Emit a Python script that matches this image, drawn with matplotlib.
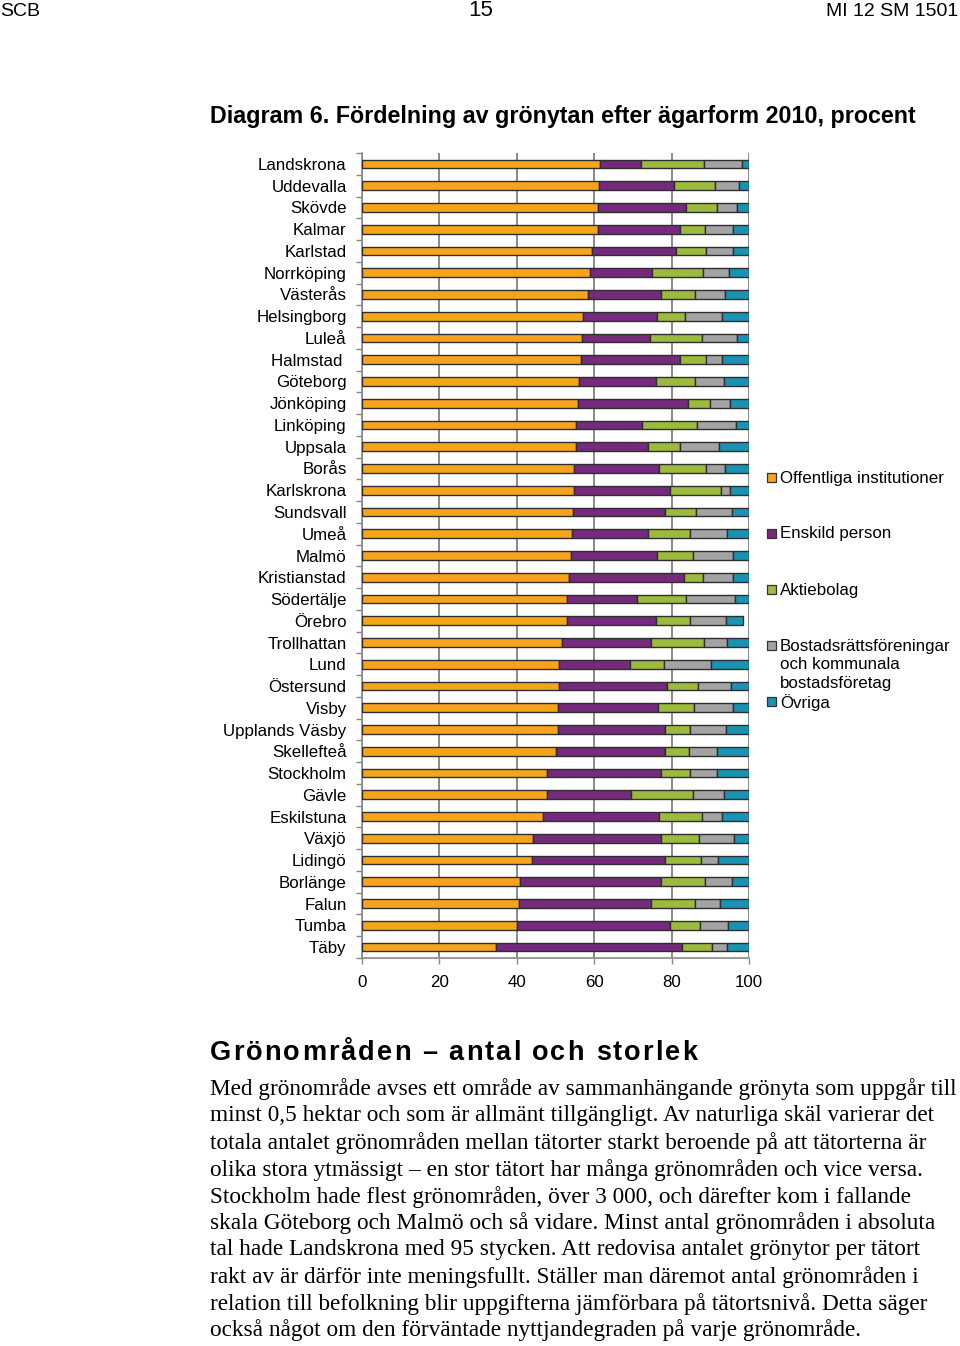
import matplotlib
matplotlib.use("Agg")
import matplotlib.pyplot as plt
from matplotlib.patches import Rectangle
import numpy as np

cities = ["Landskrona", "Uddevalla", "Skövde", "Kalmar", "Karlstad", "Norrköping",
          "Västerås", "Helsingborg", "Luleå", "Halmstad ", "Göteborg", "Jönköping",
          "Linköping", "Uppsala", "Borås", "Karlskrona", "Sundsvall", "Umeå", "Malmö",
          "Kristianstad", "Södertälje", "Örebro", "Trollhattan", "Lund", "Östersund",
          "Visby", "Upplands Väsby", "Skellefteå", "Stockholm", "Gävle", "Eskilstuna",
          "Växjö", "Lidingö", "Borlänge", "Falun", "Tumba", "Täby"]

offentliga = [61.6, 61.2, 60.9, 60.9, 59.5, 59.0, 58.4, 57.1, 56.9, 56.7, 56.2, 55.8,
              55.4, 55.4, 54.7, 54.7, 54.4, 54.2, 53.9, 53.4, 53.1, 52.9, 51.7, 51.0,
              50.9, 50.7, 50.6, 50.2, 47.8, 47.7, 46.8, 44.1, 43.9, 40.9, 40.6, 40.1, 34.7]
enskild = [10.6, 19.4, 22.7, 21.2, 21.7, 16.0, 18.8, 19.2, 17.5, 25.4, 19.7, 28.5,
           17.0, 18.4, 22.0, 25.0, 24.0, 19.8, 22.4, 29.8, 18.0, 23.1, 23.1, 18.2,
           28.0, 25.8, 27.8, 28.2, 29.5, 21.8, 29.9, 33.2, 34.3, 36.4, 34.1, 39.5, 48.1]
aktiebolag = [16.2, 10.6, 8.2, 6.5, 7.8, 13.2, 8.8, 7.1, 13.4, 6.9, 10.1, 5.6,
              14.2, 8.4, 12.1, 13.0, 8.0, 10.7, 9.3, 4.9, 12.5, 8.7, 13.6, 8.8,
              8.0, 9.4, 6.3, 6.1, 7.4, 16.1, 11.2, 9.8, 9.3, 11.3, 11.3, 7.7, 7.7]
bostadsratt = [9.9, 6.2, 5.2, 7.3, 6.9, 6.6, 7.7, 9.7, 9.2, 4.1, 7.5, 5.1,
               10.0, 10.0, 5.0, 2.3, 9.1, 9.7, 10.3, 7.8, 12.7, 9.3, 6.0, 12.3,
               8.5, 10.0, 9.4, 7.3, 7.1, 8.0, 5.2, 9.0, 4.6, 7.1, 6.5, 7.3, 3.7]
ovriga = [1.7, 2.6, 3.0, 4.1, 4.1, 5.2, 6.3, 6.9, 3.0, 6.9, 6.5, 5.0,
          3.4, 7.8, 6.2, 5.0, 4.5, 5.6, 4.1, 4.1, 3.7, 4.5, 5.6, 9.7,
          4.6, 4.1, 5.9, 8.2, 8.2, 6.4, 6.9, 3.9, 7.9, 4.3, 7.5, 5.4, 5.8]

series_names = ["Offentliga institutioner", "Enskild person", "Aktiebolag",
                "Bostadsrättsföreningar\noch kommunala\nbostadsföretag", "Övriga"]
colors = ["#F7A41D", "#762A7E", "#9CBA3E", "#A3A3A3", "#1A93B2"]
xticks = [0, 20, 40, 60, 80, 100]

W, H = 960, 1346
fig = plt.figure(figsize=(W / 100, H / 100), dpi=100)
plt.rcParams["font.family"] = ["Liberation Sans", "DejaVu Sans"]


def fx(px):
    return px / W


def fy(py):
    return 1 - py / H


renderer = fig.canvas.get_renderer()


def text_width(txt, size, **kw):
    t = fig.text(0, 0, txt, fontsize=size, **kw)
    w = t.get_window_extent(renderer=renderer).width
    t.remove()
    return w


def fit_size(txt, width_px, **kw):
    return 10 * width_px / text_width(txt, 10, **kw)


# Axes
ax = fig.add_axes([fx(362), fy(958), fx(749) - fx(362), fy(153) - fy(958)])
ax.set_axisbelow(True)
ypos = np.arange(len(cities))
left = np.zeros(len(cities))
for vals, c in zip([offentliga, enskild, aktiebolag, bostadsratt, ovriga], colors):
    ax.barh(ypos, vals, left=left, height=0.4, color=c, edgecolor="#2e2e2e",
            linewidth=1.0, zorder=3)
    left = left + np.array(vals)

ax.set_xlim(0, 100)
ax.set_ylim(len(cities) - 0.5, -0.5)
ax.set_xticks(xticks)
ax.set_xticklabels([str(v) for v in xticks], fontsize=12.2)
ax.set_yticks(ypos)
ax.set_yticklabels(cities, fontsize=12.2)
ax.set_yticks(np.arange(-0.5, len(cities)), minor=True)
ax.tick_params(axis="y", which="major", length=0, pad=11)
ax.tick_params(axis="y", which="minor", length=4, color="#888888", width=1)
ax.tick_params(axis="x", which="major", length=4, color="#888888", width=1, pad=8)
ax.grid(axis="x", color="#8a8a8a", linewidth=1.4, zorder=0)
for s in ["top", "right"]:
    ax.spines[s].set_visible(False)
for s in ["left", "bottom"]:
    ax.spines[s].set_color("#8a8a8a")
    ax.spines[s].set_linewidth(1.2)

# Legend (manual)
leg_y = [477, 533, 589, 645, 701]
for name, c, yy in zip(series_names, colors, leg_y):
    fig.patches.append(Rectangle((fx(767), fy(yy + 4.5)), 9 / W, 9 / H,
                                 facecolor=c, edgecolor="#333333", linewidth=0.9,
                                 transform=fig.transFigure, figure=fig))
    fig.text(fx(780), fy(yy - 6.5), name, fontsize=12.2, va="top", ha="left",
             linespacing=1.3)

# Header
fig.text(fx(0), fy(11), "SCB", fontsize=14, va="center", ha="left")
fig.text(fx(481), fy(11), "15", fontsize=16, va="center", ha="center")
fig.text(fx(958), fy(11), "MI 12 SM 1501", fontsize=14, va="center", ha="right")

# Title
title = "Diagram 6. Fördelning av grönytan efter ägarform 2010, procent"
ts = fit_size(title, 705, fontweight="bold")
fig.text(fx(210), fy(116), title, fontsize=ts, fontweight="bold", va="center", ha="left")

# Section heading (letter-spaced)
heading = "Grönområden – antal och storlek"
hsize = 19.5
natural = text_width(heading, hsize, fontweight="bold")
gap = (487 - natural) / (len(heading) - 1)
ref_w = text_width("I", hsize, fontweight="bold")
for i, ch in enumerate(heading):
    if ch == " ":
        continue
    pre = text_width(heading[:i] + "I", hsize, fontweight="bold") - ref_w if i > 0 else 0
    fig.text(fx(210 + pre + i * gap), fy(1060), ch, fontsize=hsize, fontweight="bold",
             va="baseline", ha="left")

# Body text
body = [
    "Med grönområde avses ett område av sammanhängande grönyta som uppgår till",
    "minst 0,5 hektar och som är allmänt tillgängligt. Av naturliga skäl varierar det",
    "totala antalet grönområden mellan tätorter starkt beroende på att tätorterna är",
    "olika stora ytmässigt – en stor tätort har många grönområden och vice versa.",
    "Stockholm hade flest grönområden, över 3 000, och därefter kom i fallande",
    "skala Göteborg och Malmö och så vidare. Minst antal grönområden i absoluta",
    "tal hade Landskrona med 95 stycken. Att redovisa antalet grönytor per tätort",
    "rakt av är därför inte meningsfullt. Ställer man däremot antal grönområden i",
    "relation till befolkning blir uppgifterna jämförbara på tätortsnivå. Detta säger",
    "också något om den förväntade nyttjandegraden på varje grönområde.",
]
serif = ["Liberation Serif", "DejaVu Serif"]
bs = fit_size(body[0], 745, family=serif)
body_y = [1089, 1116, 1143, 1170, 1197, 1223, 1250, 1277, 1304, 1330]
for line, yy in zip(body, body_y):
    fig.text(fx(210), fy(yy), line, fontsize=bs, family=serif, va="center", ha="left")

fig.savefig("out.png", dpi=100)
